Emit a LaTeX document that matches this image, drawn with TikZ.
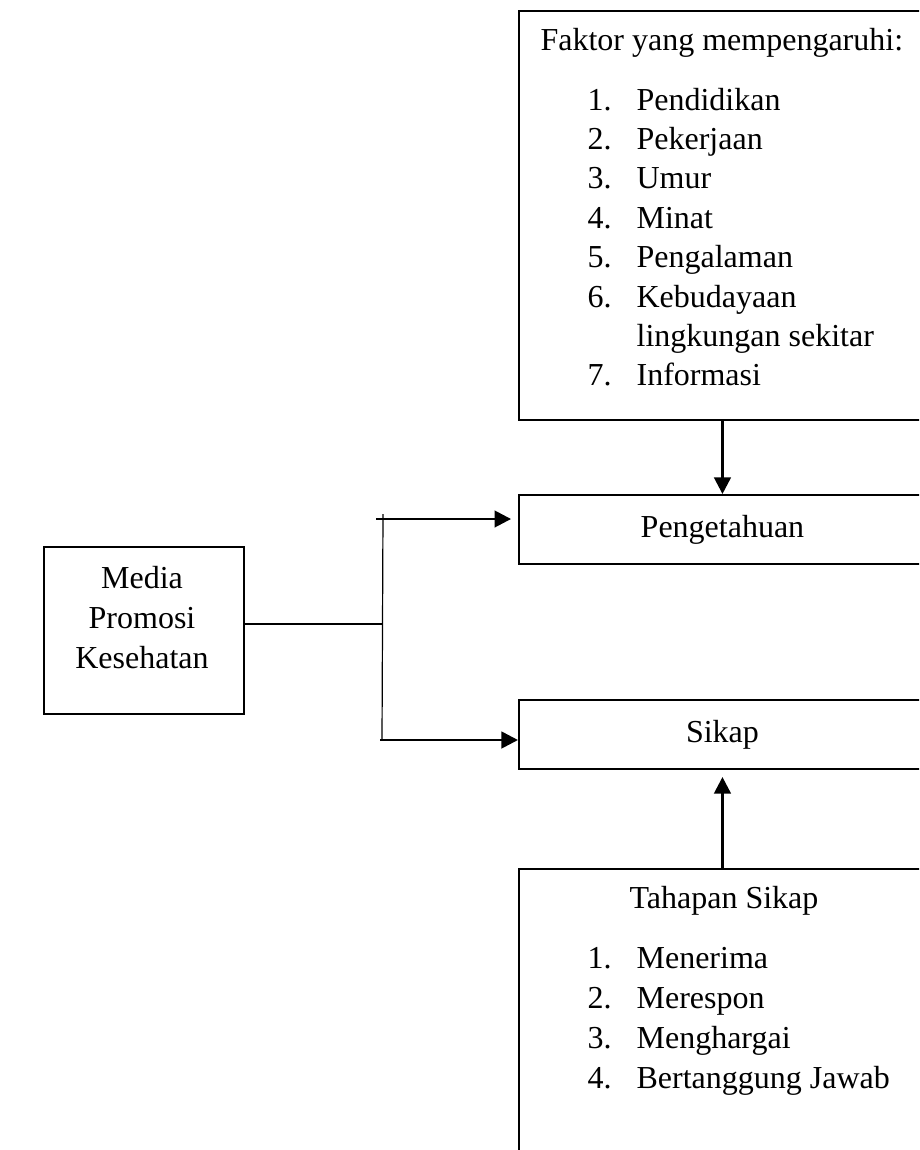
\documentclass[tikz,border=0pt]{standalone}
\usepackage{fontspec}
\setmainfont{Liberation Serif}
\usetikzlibrary{arrows.meta}

\tikzset{
    kotak/.style={draw, line width=0.75pt, inner sep=0pt, anchor=north west},
    panah/.style={line width=1pt, -{Triangle[length=6.2pt,width=6.2pt]}},
    tipis/.style={line width=0.45pt},
    teks/.style={inner sep=0pt, anchor=base west},
}
\newcommand{\butir}[2]{\makebox[18.4pt][l]{#1}#2}

\begin{document}
\begin{tikzpicture}[x=0.375pt, y=-0.375pt, font=\fontsize{12pt}{14.8pt}\selectfont]
    \clip (0,0) rectangle (919,1150);
    % kotak-kotak
    \node[kotak, minimum width=152.6pt, minimum height=153.4pt] (faktor) at (518,10) {};
    \node[kotak, minimum width=152.6pt, minimum height=25.9pt] (pengetahuan) at (518,494) {Pengetahuan};
    \node[kotak, minimum width=152.6pt, minimum height=25.9pt] (sikap) at (518,699) {Sikap};
    \node[kotak, minimum width=152.6pt, minimum height=120pt] (tahapan) at (518,868) {};
    \node[kotak, minimum width=75pt, minimum height=62.8pt] (media) at (43,546) {};
    % isi kotak
    \node[teks] (judulfaktor) at (540,50) {Faktor yang mempengaruhi:};
    \foreach \n/\t/\k in {1./Pendidikan/0, 2./Pekerjaan/1, 3./Umur/2, 4./Minat/3, 5./Pengalaman/4, 6./Kebudayaan/5, /lingkungan sekitar/6, 7./Informasi/7}
        \node[teks] (f\k) at (587,110+39.4*\k) {\butir{\n}{\t}};
    \node[inner sep=0pt, anchor=base] (judulsikap) at (724,908) {Tahapan Sikap};
    \foreach \n/\t/\k in {1./Menerima/0, 2./Merespon/1, 3./Menghargai/2, 4./Bertanggung Jawab/3}
        \node[teks] (t\k) at (587,968+40*\k) {\butir{\n}{\t}};
    \foreach \t/\k in {Media/0, Promosi/1, Kesehatan/2}
        \node[inner sep=0pt, anchor=base] (m\k) at (142,588+40*\k) {\t};
    % garis cabang
    \coordinate (cabang) at (383,624);
    \coordinate (garisatas) at (383,514);
    \coordinate (garisbawah) at (382,740);
    \coordinate (awalatas) at (376,519);
    \coordinate (awalbawah) at (380,740);
    \draw[tipis] (media.east |- cabang) -- (cabang);
    \draw[tipis] (garisatas) -- (garisbawah);
    \draw[panah, shorten >=2.6pt] (awalatas) -- (awalatas -| pengetahuan.west);
    \draw[panah] (awalbawah) -- (awalbawah -| sikap.west);
    \draw[panah] (faktor.south) -- (pengetahuan.north);
    \draw[panah, shorten >=2.6pt] (tahapan.north) -- (sikap.south);
\end{tikzpicture}
\end{document}
